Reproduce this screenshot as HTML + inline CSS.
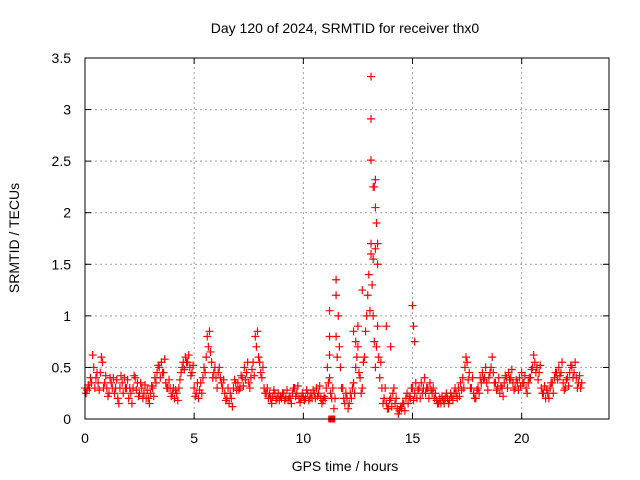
<!DOCTYPE html>
<html><head><meta charset="utf-8"><style>
body{margin:0;background:#fff;}
svg{display:block;font-family:"Liberation Sans",sans-serif;}
</style></head><body>
<svg id="chart" width="640" height="480" viewBox="0 0 640 480">
<text x="345" y="33" font-size="14" text-anchor="middle">Day 120 of 2024, SRMTID for receiver thx0</text>
<text transform="translate(19,238) rotate(-90)" font-size="14" text-anchor="middle">SRMTID / TECUs</text>
<text x="345" y="471" font-size="14" text-anchor="middle">GPS time / hours</text>
<g id="grid"></g><g id="marks"></g>
<rect x="85" y="58" width="524" height="361" fill="none" stroke="#000" stroke-width="1"/>
<g id="axes"></g>
</svg>
<script>
const xTicks=[0,5,10,15,20];
const yTicks=[0,0.5,1,1.5,2,2.5,3,3.5];
const yTickLabels=["0","0.5","1","1.5","2","2.5","3","3.5"];
const seriesStart=0, seriesStep=0.1;
const seriesValues=[
0.3,0.28,0.3,0.35,0.5,0.4,0.35,0.45,0.55,0.35,
0.3,0.25,0.35,0.4,0.3,0.2,0.3,0.35,0.4,0.3,
0.2,0.25,0.3,0.4,0.35,0.25,0.3,0.25,0.2,0.2,
0.25,0.3,0.4,0.45,0.5,0.55,0.45,0.35,0.3,0.3,
0.25,0.2,0.25,0.3,0.45,0.55,0.6,0.55,0.5,0.45,
0.3,0.25,0.2,0.35,0.4,0.45,0.8,0.85,0.55,0.45,
0.4,0.45,0.4,0.3,0.25,0.2,0.15,0.2,0.3,0.35,
0.35,0.3,0.4,0.5,0.45,0.35,0.4,0.55,0.8,0.85,
0.55,0.4,0.3,0.25,0.2,0.2,0.22,0.25,0.2,0.18,
0.2,0.25,0.2,0.18,0.2,0.25,0.3,0.25,0.2,0.2,
0.22,0.2,0.25,0.2,0.2,0.25,0.3,0.25,0.2,0.18,
0.2,0.5,0.4,0.2,0.1,0.8,1.0,0.5,0.3,0.15,
0.2,0.15,0.2,0.35,0.5,0.7,0.4,0.3,0.6,1.0,
1.4,1.6,1.0,0.5,0.9,0.4,0.3,0.2,0.15,0.1,
0.2,0.25,0.15,0.1,0.08,0.1,0.15,0.2,0.15,0.2,
0.3,0.25,0.2,0.3,0.35,0.3,0.25,0.3,0.35,0.25,
0.2,0.18,0.15,0.15,0.18,0.2,0.2,0.18,0.22,0.25,
0.25,0.3,0.35,0.4,0.5,0.55,0.45,0.3,0.25,0.2,
0.3,0.4,0.45,0.4,0.35,0.4,0.5,0.45,0.35,0.3,
0.25,0.3,0.35,0.4,0.45,0.4,0.35,0.3,0.35,0.4,
0.45,0.35,0.3,0.35,0.4,0.5,0.55,0.5,0.45,0.3,
0.25,0.2,0.25,0.3,0.35,0.4,0.45,0.5,0.45,0.35,
0.3,0.4,0.45,0.5,0.45,0.4,0.35,0.3];
const series2Start=0.05, series2Step=0.1;
const series2Values=[
0.25,0.33,0.4,0.62,0.3,0.45,0.28,0.6,0.3,0.42,
0.22,0.4,0.3,0.25,0.38,0.15,0.42,0.25,0.3,0.38,
0.3,0.15,0.42,0.28,0.22,0.35,0.2,0.33,0.28,0.15,
0.32,0.22,0.35,0.52,0.4,0.45,0.58,0.3,0.38,0.22,
0.3,0.28,0.18,0.38,0.5,0.48,0.55,0.62,0.42,0.52,
0.22,0.35,0.28,0.25,0.5,0.6,0.7,0.65,0.4,0.5,
0.3,0.5,0.35,0.38,0.18,0.3,0.25,0.12,0.38,0.28,
0.28,0.42,0.32,0.38,0.55,0.3,0.48,0.42,0.7,0.6,
0.45,0.5,0.25,0.3,0.25,0.15,0.28,0.18,0.25,0.22,
0.25,0.18,0.28,0.22,0.15,0.3,0.22,0.32,0.16,0.25,
0.18,0.28,0.18,0.25,0.28,0.2,0.22,0.32,0.15,0.22,
0.3,0.35,0.25,0.3,0.2,0.6,0.7,0.3,0.2,0.25,
0.1,0.25,0.3,0.25,0.6,0.45,0.25,0.55,0.85,1.2,
1.05,1.3,0.75,0.7,0.6,0.55,0.15,0.3,0.1,0.18,
0.12,0.3,0.2,0.05,0.12,0.15,0.08,0.25,0.22,0.3,
0.18,0.35,0.28,0.2,0.25,0.4,0.3,0.2,0.28,0.3,
0.25,0.15,0.2,0.22,0.15,0.25,0.15,0.25,0.18,0.3,
0.2,0.22,0.28,0.3,0.6,0.38,0.3,0.4,0.2,0.28,
0.25,0.35,0.38,0.5,0.28,0.45,0.6,0.35,0.28,0.4,
0.32,0.22,0.42,0.3,0.38,0.48,0.28,0.38,0.28,0.32,
0.35,0.42,0.25,0.4,0.48,0.62,0.45,0.38,0.52,0.25,
0.32,0.28,0.2,0.35,0.25,0.45,0.38,0.42,0.55,0.28,
0.38,0.32,0.52,0.4,0.55,0.3,0.42,0.35];
const spikeTimes=[11.2,11.2,11.2,11.5,11.5,12.3,12.4,12.5,13.1,13.1,13.1,13.2,13.25,13.3,13.3,13.35,13.4,13.4,13.1,13.2,13.3,12.7,13.8,14.0,15.0,15.05,15.1];
const spikeValues=[1.05,0.8,0.62,1.35,1.2,0.85,0.75,0.9,3.32,2.91,2.51,2.25,2.25,2.32,2.05,1.9,1.7,1.5,1.7,1.55,1.65,1.25,0.9,0.7,1.1,0.9,0.75];
const squareTimes=[11.3];
const squareValues=[0];

const X0=85,X1=609,Y0=419,Y1=58,XMAX=24,YMAX=3.5;
const sx=t=>X0+(X1-X0)*t/XMAX;
const sy=v=>Y0-(Y0-Y1)*v/YMAX;
const NS='http://www.w3.org/2000/svg';
const grid=document.getElementById('grid'),marks=document.getElementById('marks'),axes=document.getElementById('axes');
function mk(tag,attrs,parent){const e=document.createElementNS(NS,tag);for(const k in attrs)e.setAttribute(k,attrs[k]);parent.appendChild(e);return e;}
xTicks.forEach(t=>{
  const x=sx(t);
  if(t>0){const g=mk('line',{x1:x,y1:Y0,x2:x,y2:Y1,stroke:'#a0a0a0','stroke-dasharray':'2,3'},grid);
  
  }
  mk('line',{x1:x,y1:Y0,x2:x,y2:Y0-6,stroke:'#000'},axes);
  mk('line',{x1:x,y1:Y1,x2:x,y2:Y1+6,stroke:'#000'},axes);
  const l=mk('text',{x:x,y:Y0+24,'font-size':14,'text-anchor':'middle'},axes);l.textContent=t;
  
  
});
yTicks.forEach((v,i)=>{
  const y=sy(v);
  if(v>0&&v<YMAX){const g=mk('line',{x1:X0,y1:y,x2:X1,y2:y,stroke:'#a0a0a0','stroke-dasharray':'2,3'},grid);
  
  }
  mk('line',{x1:X0,y1:y,x2:X0+6,y2:y,stroke:'#000'},axes);
  mk('line',{x1:X1,y1:y,x2:X1-6,y2:y,stroke:'#000'},axes);
  const l=mk('text',{x:71,y:y+5,'font-size':14,'text-anchor':'end'},axes);l.textContent=yTickLabels[i];
  
  
});
function plus(t,v){
  const x=sx(t),y=sy(v);
  const p=mk('path',{d:`M${x-4},${y}H${x+4}M${x},${y-4}V${y+4}`,stroke:'#f00','stroke-width':1.2,fill:'none'},marks);
  
  
}
seriesValues.forEach((v,i)=>plus(seriesStart+i*seriesStep,v));
series2Values.forEach((v,i)=>plus(series2Start+i*series2Step,v));
spikeTimes.forEach((t,i)=>plus(t,spikeValues[i]));
squareTimes.forEach((t,i)=>{
  const r=mk('rect',{x:sx(t)-3.5,y:sy(squareValues[i])-3.5,width:7,height:7,fill:'#f00'},marks);
  
  
});
</script>
</body></html>
